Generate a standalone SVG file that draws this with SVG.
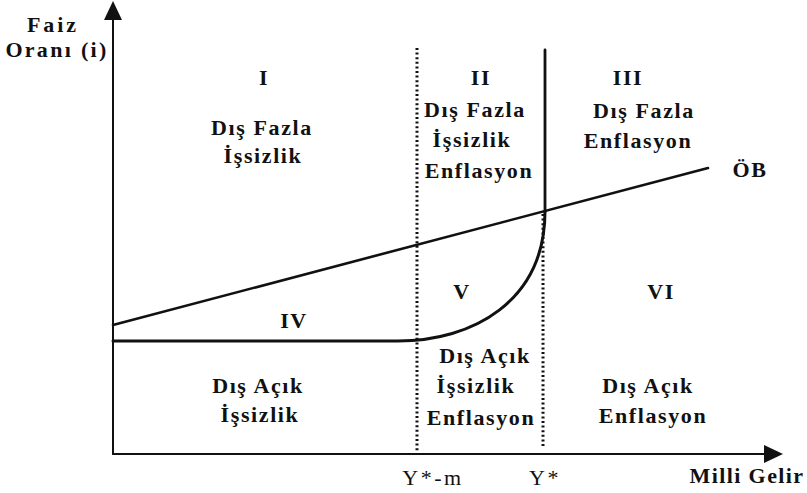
<svg xmlns="http://www.w3.org/2000/svg" width="807" height="493" viewBox="0 0 807 493">
<style>
.t{font-family:"Liberation Serif","Times New Roman",serif;font-weight:bold;font-size:22px;letter-spacing:1.6px;fill:#111;text-anchor:middle}
.r{font-family:"Liberation Serif","Times New Roman",serif;font-size:22px;letter-spacing:2.5px;fill:#111;text-anchor:middle}
.ln{fill:none;stroke:#111;stroke-linecap:round}
.dot{fill:none;stroke:#111;stroke-width:3;stroke-dasharray:2 2.6;stroke-linecap:butt}
</style>
<rect width="807" height="493" fill="#fff"/>
<g id="connectors">
<line class="ln" x1="113" y1="454" x2="113" y2="18" stroke-width="2"/>
<polygon points="113,1 104,20 122,20" fill="#111"/>
<line class="ln" x1="113" y1="454" x2="766" y2="454" stroke-width="2"/>
<polygon points="783,454 764,445 764,463" fill="#111"/>
<line class="dot" x1="417" y1="48" x2="417" y2="452"/>
<line class="dot" x1="543" y1="214" x2="543" y2="447"/>
<line class="ln" x1="545" y1="50" x2="545" y2="212" stroke-width="2.8"/>
<line id="ob" class="ln" x1="113" y1="325" x2="708" y2="168" stroke-width="2.6"/>
<path class="ln" d="M113,341 L398,341 C472,341 545,302 545,211" stroke-width="3"/>
</g>
<g id="axis-y-label">
<text class="t" x="53" y="32" style="letter-spacing:2.9px">Faiz</text>
<text class="t" x="57" y="57" style="letter-spacing:2.3px">Oranı (i)</text>
</g>
<g id="axis-x-label">
<text class="t" x="747" y="483" style="letter-spacing:1.4px">Milli Gelir</text>
<text class="r" x="433" y="485">Y*-m</text>
<text class="r" x="545" y="485">Y*</text>
</g>
<g id="region-I">
<text class="t" x="264" y="85">I</text>
<text class="t" x="262" y="135">Dış Fazla</text>
<text class="t" x="263" y="163">İşsizlik</text>
</g>
<g id="region-II">
<text class="t" x="481" y="85">II</text>
<text class="t" x="475" y="117">Dış Fazla</text>
<text class="t" x="472" y="147">İşsizlik</text>
<text class="t" x="479" y="178">Enflasyon</text>
</g>
<g id="region-III">
<text class="t" x="628" y="85">III</text>
<text class="t" x="644" y="118">Dış Fazla</text>
<text class="t" x="638" y="148">Enflasyon</text>
</g>
<g id="label-OB">
<text class="t" x="750" y="177">ÖB</text>
</g>
<g id="region-IV">
<text class="t" x="294" y="328">IV</text>
</g>
<g id="region-V">
<text class="t" x="462" y="299">V</text>
</g>
<g id="region-VI">
<text class="t" x="661" y="299">VI</text>
</g>
<g id="region-bottom-left">
<text class="t" x="258" y="393">Dış Açık</text>
<text class="t" x="260" y="422">İşsizlik</text>
</g>
<g id="region-bottom-mid">
<text class="t" x="485" y="363">Dış Açık</text>
<text class="t" x="476" y="393">İşsizlik</text>
<text class="t" x="481" y="425">Enflasyon</text>
</g>
<g id="region-bottom-right">
<text class="t" x="648" y="393">Dış Açık</text>
<text class="t" x="653" y="423">Enflasyon</text>
</g>
</svg>
